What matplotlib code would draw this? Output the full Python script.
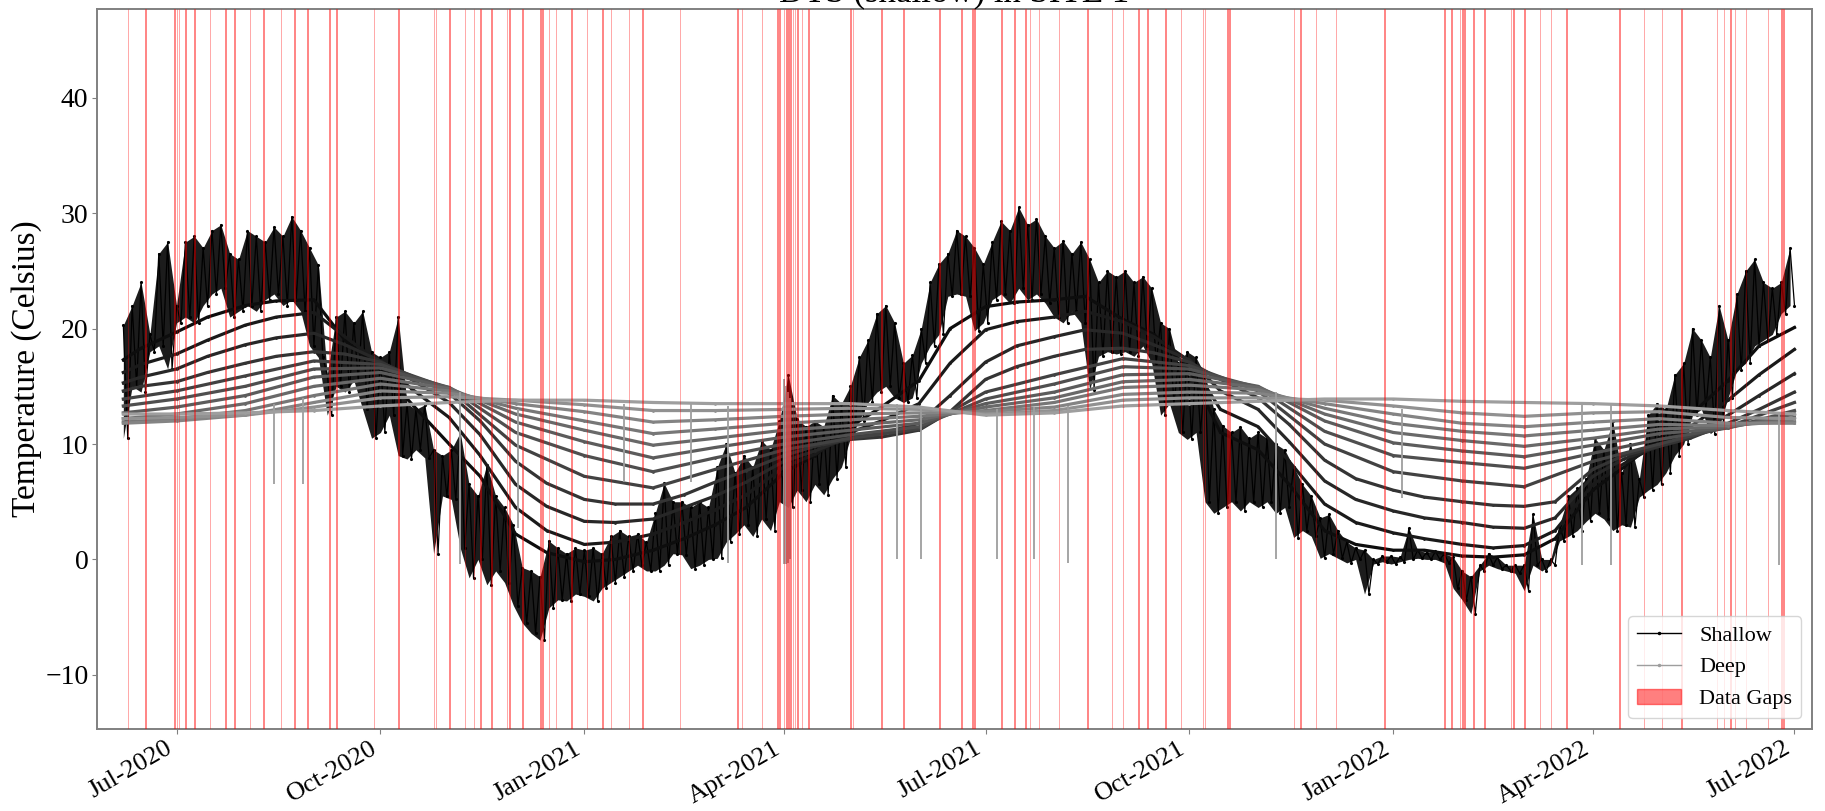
import pandas as pd
import matplotlib
matplotlib.use('Agg')
import matplotlib.pyplot as plt
import matplotlib.dates as mdates
from matplotlib.lines import Line2D
import numpy as np

plt.rcParams['font.family'] = ['Liberation Serif', 'DejaVu Serif']

# shallow sensor, one reading every 2 days from 2020-06-07 (daily high / low alternating)
shallow = [
    20.3, 10.5, 22.0, 15.0, 24.0, 14.5, 19.5, 18.0, 26.5, 18.5, 27.5, 16.5,  # jun 2020
    22.0, 20.5, 27.5, 21.0, 28.0, 20.5, 27.0, 22.0, 28.5, 23.0, 29.0, 23.5, 26.5, 21.0, 26.0, 21.5,  # jul
    28.5, 22.0, 28.0, 21.5, 27.5, 22.5, 28.8, 23.0, 28.0, 22.0, 29.7, 22.5, 28.5, 21.5, 27.0,  # aug
    18.5, 25.5, 17.5, 16.0, 12.5, 21.0, 15.0, 21.5, 14.5, 20.5, 15.5, 21.5, 13.0, 18.0, 10.5,  # sep
    17.5, 11.0, 18.0, 12.5, 21.0, 9.0, 13.5, 8.7, 13.0, 9.5, 13.4, 8.8, 9.5, 0.5, 9.0, 5.5,  # oct
    9.5, 5.2, 11.0, 1.0, 6.5, -1.6, 5.5, 0.0, 8.2, -2.2, 5.5, -1.0, 4.5, -2.0, 3.0,  # nov
    -4.0, -0.7, -5.5, -1.0, -6.4, -1.5, -7.0, 1.6, -4.2, 1.0, -3.5, 0.5, -3.6, 1.0, -3.0,  # dec
    0.8, -3.2, 1.0, -3.6, 0.5, -2.5, 2.0, -2.0, 2.5, -1.5, 2.0, -1.0, 2.2, -0.5, 1.5, -1.0,  # jan 2021
    4.0, -1.0, 6.6, -0.5, 5.0, 0.5, 5.0, 0.4, 4.5, -0.8, 5.0, -0.5, 4.5, 0.0,  # feb
    8.0, 0.1, 10.0, 1.5, 7.5, 2.2, 9.0, 3.0, 8.0, 2.0, 10.3, 3.5, 9.5, 2.5, 12.0,  # mar
    5.0, 16.0, 4.5, 12.2, 6.0, 11.5, 5.0, 12.0, 6.5, 11.5, 5.6, 14.2, 7.0, 13.5, 8.0,  # apr
    15.0, 10.5, 17.5, 12.0, 19.0, 13.6, 21.3, 14.5, 22.0, 15.0, 20.5, 14.0, 17.0, 13.6, 17.7, 14.0,  # may
    20.0, 17.0, 24.0, 18.5, 25.6, 19.5, 26.5, 22.8, 28.5, 23.0, 28.0, 22.8, 27.0, 19.8, 25.6,  # jun
    20.5, 27.5, 22.5, 29.3, 23.0, 28.5, 22.2, 30.5, 23.5, 29.0, 22.5, 29.5, 23.0, 28.0, 22.2,  # jul
    27.0, 21.0, 27.6, 20.5, 26.5, 21.5, 27.5, 20.5, 26.0, 14.7, 24.0, 17.6, 25.0, 18.0, 24.5, 17.8,  # aug
    25.0, 18.0, 24.0, 17.6, 24.5, 18.5, 23.5, 17.0, 20.5, 12.5, 20.0, 13.5, 17.0, 11.0, 18.0,  # sep
    10.4, 17.5, 11.0, 16.0, 5.0, 13.0, 4.0, 11.6, 4.5, 11.0, 5.0, 11.5, 4.2, 10.5, 5.0,  # oct
    11.0, 4.5, 10.5, 5.0, 10.0, 4.0, 9.5, 4.5, 8.0, 1.9, 6.5, 2.5, 5.5, 2.0, 3.6,  # nov
    0.1, 3.9, 0.5, 2.5, 0.1, 1.5, -0.3, 1.0, 0.0, 0.8, -3.0, 0.0, -0.4, 0.3, -0.2, 0.3,  # dec
    -0.4, 0.2, -0.2, 2.7, 0.0, 0.8, 0.1, 0.6, 0.0, 0.7, 0.0, 0.5, -0.3, 0.2, -2.5,  # jan 2022
    -1.0, -3.5, -1.5, -4.7, -0.5, -1.0, 0.5, -0.5, 0.2, -0.8, -0.5, -1.0, -0.5, -1.2,  # feb
    -0.5, -2.7, 3.9, -0.5, 0.0, -1.0, 0.0, -0.5, 3.0, 1.6, 5.5, 2.0, 6.2, 2.5, 7.0, 3.3,  # mar
    10.5, 4.0, 9.5, 3.5, 12.0, 2.5, 7.5, 3.0, 10.0, 2.8, 7.0, 5.4, 12.5, 6.0, 13.5,  # apr
    6.5, 13.0, 7.5, 16.0, 9.0, 17.0, 10.0, 20.0, 12.5, 19.0, 13.0, 17.5, 10.9, 22.0, 11.5,  # may
    19.0, 14.0, 23.0, 16.4, 25.0, 17.0, 26.0, 18.5, 24.0, 19.0, 23.5, 19.5, 24.0, 21.3, 27.0,  # jun
    22.0,  # jul 2022
]

# upper sensors, 1st and 15th of each month (first point 2020-06-07)
depth_01 = [17.3, 18.3, 19.7, 21.0, 22.0, 22.4, 22.5, 19.0, 16.5, 13.5, 10.0, 7.2, 2.2, 0.6, -0.2, 0.0, 0.8,
            1.8, 3.0, 4.5, 7.5, 9.0, 11.5, 13.2, 15.5, 20.0, 21.9, 22.3, 22.5, 22.8, 20.8, 19.5, 16.5, 11.0,
            9.5, 6.5, 2.5, 1.3, 0.8, 0.8, 0.3, 0.2, 0.4, 1.8, 6.0, 8.0, 10.5, 12.5, 15.5, 18.5, 20.1]
depth_02 = [16.2, 16.9, 17.8, 19.0, 20.3, 21.0, 21.4, 19.3, 17.0, 14.8, 12.3, 9.0, 4.5, 2.5, 1.3, 1.5, 2.2,
            3.2, 4.3, 5.6, 8.0, 9.1, 11.0, 12.0, 13.5, 17.0, 19.9, 20.6, 21.0, 21.5, 20.6, 19.3, 17.2, 13.0,
            11.5, 8.5, 4.8, 3.2, 2.3, 1.8, 1.3, 1.0, 1.2, 2.5, 6.5, 8.3, 10.0, 11.5, 13.8, 16.0, 18.2]
depth_03 = [15.3, 15.8, 16.5, 17.6, 18.6, 19.2, 19.6, 18.6, 17.2, 15.6, 13.6, 10.8, 6.5, 4.6, 3.3, 3.2, 3.5,
            4.5, 5.5, 6.7, 8.5, 9.4, 10.6, 10.9, 11.8, 14.2, 17.1, 18.5, 19.3, 19.9, 19.6, 18.6, 17.3, 14.6,
            13.0, 10.2, 6.8, 5.2, 4.2, 3.6, 3.2, 2.8, 2.7, 3.6, 7.2, 8.7, 9.8, 10.8, 12.5, 14.2, 16.1]
depth_04 = [14.6, 15.0, 15.4, 16.2, 17.0, 17.6, 18.0, 17.8, 17.1, 15.9, 14.4, 12.0, 8.5, 6.6, 5.2, 4.8, 4.8,
            5.6, 6.7, 7.7, 9.0, 9.8, 10.4, 10.6, 11.2, 12.8, 15.6, 16.7, 17.6, 18.2, 18.3, 17.9, 17.1, 15.6,
            14.0, 11.7, 8.6, 7.0, 6.0, 5.4, 5.0, 4.7, 4.6, 5.0, 7.8, 9.0, 9.8, 10.5, 11.8, 13.0, 14.5]

# deeper sensors, 1st of each month (first point 2020-06-07)
depth_05 = [13.9, 14.6, 15.9, 17.2, 16.9, 14.8, 9.9, 7.2, 6.2, 7.8, 9.5, 10.5, 11.3, 14.5, 16.0, 17.4, 16.8,
            14.6, 10.0, 7.6, 6.8, 6.3, 8.5, 10.0, 11.5, 13.6]
depth_06 = [13.3, 13.9, 15.0, 16.5, 16.6, 14.9, 11.0, 9.0, 7.6, 8.8, 10.0, 10.8, 11.5, 13.9, 15.2, 16.7, 16.5,
            14.9, 11.1, 9.0, 8.4, 7.9, 9.2, 10.4, 11.4, 12.9]
depth_07 = [12.7, 13.2, 14.2, 15.8, 16.2, 14.9, 11.9, 10.2, 8.8, 9.7, 10.6, 11.2, 11.8, 13.5, 14.5, 16.0, 16.1,
            15.0, 12.0, 10.1, 9.4, 8.9, 9.9, 10.9, 11.4, 12.6]
depth_08 = [12.2, 12.6, 13.5, 15.0, 15.7, 14.8, 12.6, 11.2, 9.9, 10.5, 11.2, 11.6, 12.1, 13.2, 14.0, 15.4, 15.6,
            14.9, 12.6, 11.0, 10.3, 9.8, 10.5, 11.3, 11.5, 12.3]
depth_09 = [11.9, 12.2, 12.9, 14.2, 15.2, 14.6, 13.1, 12.0, 10.9, 11.3, 11.8, 12.1, 12.4, 12.9, 13.6, 14.9, 15.1,
            14.7, 13.1, 11.8, 11.1, 10.7, 11.2, 11.7, 11.6, 12.0]
depth_10 = [11.8, 12.0, 12.5, 13.6, 14.6, 14.4, 13.5, 12.8, 11.9, 12.1, 12.4, 12.6, 12.7, 12.8, 13.2, 14.3, 14.5,
            14.4, 13.5, 12.6, 11.8, 11.5, 11.9, 12.2, 11.8, 11.8]
depth_11 = [12.2, 12.3, 12.5, 13.2, 14.0, 14.1, 13.8, 13.4, 12.9, 12.9, 13.0, 13.1, 13.0, 12.6, 12.9, 13.8, 14.0,
            14.0, 13.8, 13.3, 12.7, 12.4, 12.7, 12.8, 12.3, 12.2]
depth_12 = [12.6, 12.6, 12.7, 12.9, 13.3, 13.6, 13.8, 13.8, 13.6, 13.5, 13.5, 13.5, 13.2, 12.5, 12.7, 13.3, 13.5,
            13.7, 13.9, 13.9, 13.7, 13.6, 13.5, 13.3, 12.9, 12.6]

# single bad readings in the deep sensors (drop to near zero)
dropout_dates = ['2020-08-14', '2020-08-27', '2020-11-06', '2020-12-02', '2021-01-19', '2021-02-18',
                 '2021-03-07', '2021-04-01', '2021-04-02', '2021-04-03', '2021-04-04', '2021-05-22',
                 '2021-06-02', '2021-07-06', '2021-07-23', '2021-08-07', '2021-11-09', '2022-01-05',
                 '2022-03-27', '2022-04-09', '2022-06-24']
dropout_top = [13.5, 14.0, 14.5, 13.0, 13.5, 13.5, 13.3, 15.6, 15.0, 14.5, 14.0, 13.5, 13.0, 13.0, 13.2, 13.3,
               14.5, 13.0, 13.5, 13.5, 12.8]
dropout_low = [6.5, 6.5, -0.4, 2.7, 6.7, 6.7, -0.3, -0.4, -0.4, -0.3, 0.0, 0.0, 0.0, 0.0, 0.0, -0.3, 0.0,
               5.3, -0.5, -0.5, -0.5]

gap_dates = [
    '2020-06-09', '2020-06-17', '2020-06-30', '2020-07-01', '2020-07-02', '2020-07-05', '2020-07-09',
    '2020-07-16', '2020-07-23', '2020-07-27', '2020-08-03', '2020-08-09', '2020-08-17', '2020-08-23',
    '2020-08-29', '2020-09-08', '2020-09-11', '2020-09-28', '2020-10-09', '2020-10-25', '2020-10-26',
    '2020-11-01', '2020-11-08', '2020-11-12', '2020-11-15', '2020-11-20', '2020-11-27', '2020-11-28',
    '2020-12-04', '2020-12-12', '2020-12-13', '2020-12-16', '2020-12-19', '2020-12-26',
    '2021-01-02', '2021-01-09', '2021-01-13', '2021-01-21', '2021-01-27', '2021-02-13', '2021-03-11',
    '2021-03-13', '2021-03-22', '2021-03-29', '2021-03-30', '2021-04-01', '2021-04-02', '2021-04-03',
    '2021-04-04', '2021-04-05', '2021-04-06', '2021-04-07', '2021-04-09', '2021-04-12', '2021-05-01',
    '2021-05-02', '2021-05-15', '2021-05-25', '2021-06-10', '2021-06-20', '2021-06-25', '2021-06-26',
    '2021-07-08', '2021-07-14', '2021-07-19', '2021-07-21', '2021-07-25', '2021-08-03', '2021-08-16',
    '2021-08-27', '2021-09-01', '2021-09-08', '2021-09-12', '2021-09-20', '2021-09-27', '2021-10-07',
    '2021-10-08', '2021-10-18', '2021-10-19', '2021-11-17', '2021-11-20', '2021-11-27', '2021-12-06',
    '2021-12-28',
    '2022-01-24', '2022-01-27', '2022-01-31', '2022-02-01', '2022-02-02', '2022-02-06', '2022-02-11',
    '2022-02-23', '2022-02-24', '2022-03-01', '2022-03-08', '2022-03-13', '2022-03-20', '2022-04-13',
    '2022-04-24', '2022-05-02', '2022-05-11', '2022-05-27', '2022-05-30', '2022-06-02', '2022-06-04',
    '2022-06-09', '2022-06-19', '2022-06-25', '2022-06-26',
]

# time axes for the series
shallow_dates = pd.date_range('2020-06-07', periods=len(shallow), freq='2D')
half_month = pd.DatetimeIndex(['2020-06-07']).append(pd.date_range('2020-06-15', '2022-07-01', freq='SMS'))
month = pd.DatetimeIndex(['2020-06-07']).append(pd.date_range('2020-07-01', '2022-07-01', freq='MS'))

upper = [depth_01, depth_02, depth_03, depth_04]
lower = [depth_05, depth_06, depth_07, depth_08, depth_09, depth_10, depth_11, depth_12]

# black for shallow, fading to grey with depth
colors = plt.cm.gray(np.linspace(0, 0.62, 13))

fig = plt.figure(figsize=(18.25, 8.11), dpi=100)
ax = fig.add_axes([0.053, 0.101, 0.940, 0.888])

# daily swing of the shallow sensor drawn as a dark band, readings on top
sh = np.array(shallow)
n_pairs = len(sh) // 2
hi = sh[0:2 * n_pairs:2]
lo = sh[1:2 * n_pairs:2]
ax.fill_between(shallow_dates[0:2 * n_pairs:2], np.minimum(hi, lo), np.maximum(hi, lo),
                color='#1c1c1c', lw=0, zorder=1.9)
ax.plot(shallow_dates, shallow, color=colors[0], lw=0.9, marker='.', ms=2.5, zorder=2)

for i, vals in enumerate(upper):
    ax.plot(half_month, vals, color=colors[i + 1], lw=2.3, marker='.', ms=2, zorder=2 + i * 0.01)
for i, vals in enumerate(lower):
    ax.plot(month, vals, color=colors[i + 5], lw=2.3, marker='.', ms=2, zorder=2.1 + i * 0.01)

ax.vlines(pd.to_datetime(dropout_dates), dropout_low, dropout_top, color=colors[-1], lw=1.3, zorder=2.2)

# data gaps as narrow red spans
for g in gap_dates:
    start = pd.Timestamp(g)
    ax.axvspan(start, start + pd.Timedelta(hours=6), color='red', alpha=0.4, lw=0.6, zorder=3)

ax.set_xlim(pd.Timestamp('2020-05-26'), pd.Timestamp('2022-07-09'))
ax.set_ylim(-14.7, 47.7)
ax.set_yticks([-10, 0, 10, 20, 30, 40])

ax.xaxis.set_major_locator(mdates.MonthLocator(bymonth=[1, 4, 7, 10]))
ax.xaxis.set_major_formatter(mdates.DateFormatter('%b-%Y'))
plt.setp(ax.get_xticklabels(), rotation=30, ha='right')

ax.tick_params(labelsize=20, color='#808080', length=3.5, pad=2.5)
ax.tick_params(axis='x', labelsize=19)
for s in ax.spines.values():
    s.set_color('#808080')
    s.set_linewidth(1.4)

ax.set_ylabel('Temperature (Celsius)', fontsize=24, labelpad=2)
ax.set_title('DTS (shallow) in SITE 1', fontsize=25, pad=0.5)

handles = [
    Line2D([], [], color=colors[0], lw=1, marker='.', ms=3, label='Shallow'),
    Line2D([], [], color=colors[-1], lw=1, marker='.', ms=3, label='Deep'),
    plt.Rectangle((0, 0), 1, 1, color='red', alpha=0.5, label='Data Gaps'),
]
ax.legend(handles=handles, loc='lower right', fontsize=16)

fig.savefig('out.png', dpi=100)
